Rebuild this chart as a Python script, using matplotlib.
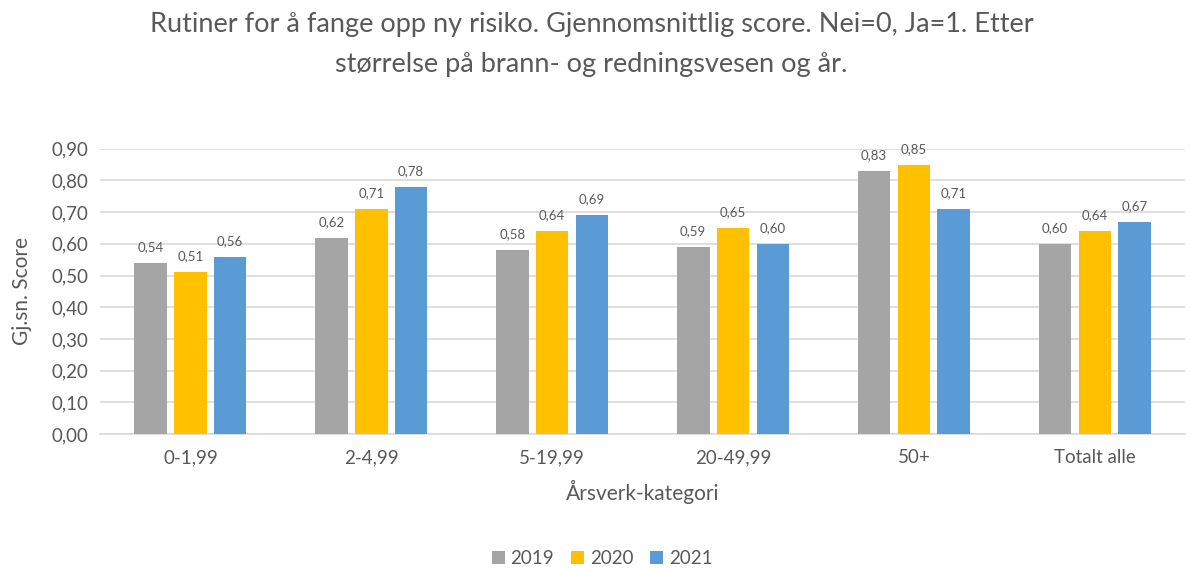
import numpy as np
import matplotlib.pyplot as plt

plt.rcParams['font.family'] = ['Lato', 'DejaVu Sans']

categories = ["0-1,99", "2-4,99", "5-19,99", "20-49,99", "50+", "Totalt alle"]
years = ["2019", "2020", "2021"]
scores_2019 = [0.54, 0.62, 0.58, 0.59, 0.83, 0.60]
scores_2020 = [0.51, 0.71, 0.64, 0.65, 0.85, 0.64]
scores_2021 = [0.56, 0.78, 0.69, 0.60, 0.71, 0.67]
colors = ["#A5A5A5", "#FFC000", "#5B9BD5"]

txt = "#595959"
fig = plt.figure(figsize=(11.9, 5.68), dpi=100)
ax = fig.add_axes([0.084, 0.236, 0.912, 0.502])

x = np.arange(len(categories))
width = 0.18
step = 0.22
for i, (vals, yr) in enumerate(zip([scores_2019, scores_2020, scores_2021], years)):
    pos = x + (i - 1) * step
    ax.bar(pos, vals, width, color=colors[i], label=yr, zorder=3)
    for px, v in zip(pos, vals):
        ax.annotate(f"{v:.2f}".replace(".", ","), (px, v), xytext=(0, 7),
                    textcoords="offset points", ha="center", va="bottom",
                    fontsize=9.5, color=txt)

ax.set_xlim(-0.5, len(categories) - 0.5)
ax.set_ylim(0, 0.9)
yt = np.arange(0, 0.91, 0.1)
ax.set_yticks(yt)
ax.set_yticklabels([f"{t:.2f}".replace(".", ",") for t in yt])
ax.set_xticks(x)
ax.set_xticklabels(categories)
ax.tick_params(axis="both", length=0, labelsize=13.5, colors=txt)
ax.tick_params(axis="x", pad=11)
ax.tick_params(axis="y", pad=8)
ax.grid(axis="y", color="#D9D9D9", linewidth=1.2, zorder=0)
for s in ["top", "right", "left"]:
    ax.spines[s].set_visible(False)
ax.spines["bottom"].set_color("#D9D9D9")
ax.spines["bottom"].set_linewidth(1.2)

ax.set_xlabel("Årsverk-kategori", fontsize=15, color=txt, labelpad=10)
ax.set_ylabel("Gj.sn. Score", fontsize=15, color=txt, labelpad=14)

fig.text(0.497, 0.978, "Rutiner for å fange opp ny risiko. Gjennomsnittlig score. Nei=0, Ja=1. Etter\n"
         "størrelse på brann- og redningsvesen og år.", ha="center", va="top",
         fontsize=19.5, color=txt, linespacing=1.75)

leg = fig.legend(loc="center", bbox_to_anchor=(0.506, 0.016), ncol=3, frameon=False,
                 fontsize=13.5, handlelength=0.7, handleheight=0.7, handletextpad=0.3,
                 columnspacing=0.9, labelcolor=txt)

fig.savefig("out.png", dpi=100)
